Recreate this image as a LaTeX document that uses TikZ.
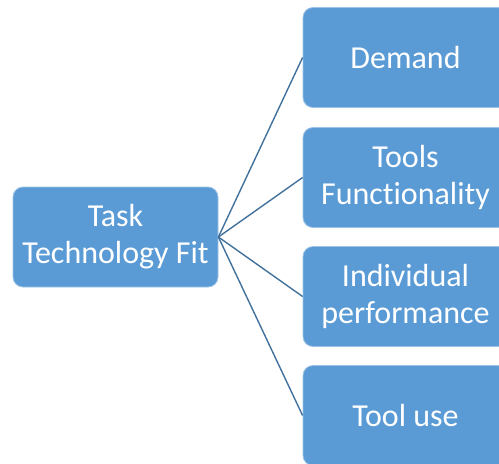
\documentclass[tikz,border=0pt]{standalone}
\usepackage{fontspec}
\setmainfont{Carlito}[Ligatures={NoCommon,NoContextual}]
\definecolor{boxfill}{HTML}{5B9BD5}
\definecolor{boxedge}{HTML}{9DC3E6}
\definecolor{linkcol}{HTML}{41719C}
\begin{document}
\begin{tikzpicture}[x=1pt,y=-1pt,
  box/.style={rectangle, rounded corners=10pt, fill=boxfill, draw=boxedge, line width=0.8pt,
    minimum width=205pt, minimum height=100pt, inner sep=0pt, align=center, text=white,
    font=\fontsize{32}{37}\selectfont},
  link/.style={draw=linkcol, line width=1.4pt}]
\useasboundingbox (0,0) rectangle (499,464);
\clip (0,0) rectangle (499,464);
\node[box] (L) at (115.5,237) {Task\\Technology Fit};
\node[box] (D) at (405.5,57.5) {Demand};
\node[box] (T) at (405.5,177.5) {Tools\\Funct\kern0pt ionality};
\node[box] (I) at (405.5,296.5) {Individual\\performance};
\node[box] (U) at (405.5,415.5) {Tool use};
\foreach \n in {D,T,I,U} \draw[link] (L.east) -- (\n.west);
\end{tikzpicture}
\end{document}
